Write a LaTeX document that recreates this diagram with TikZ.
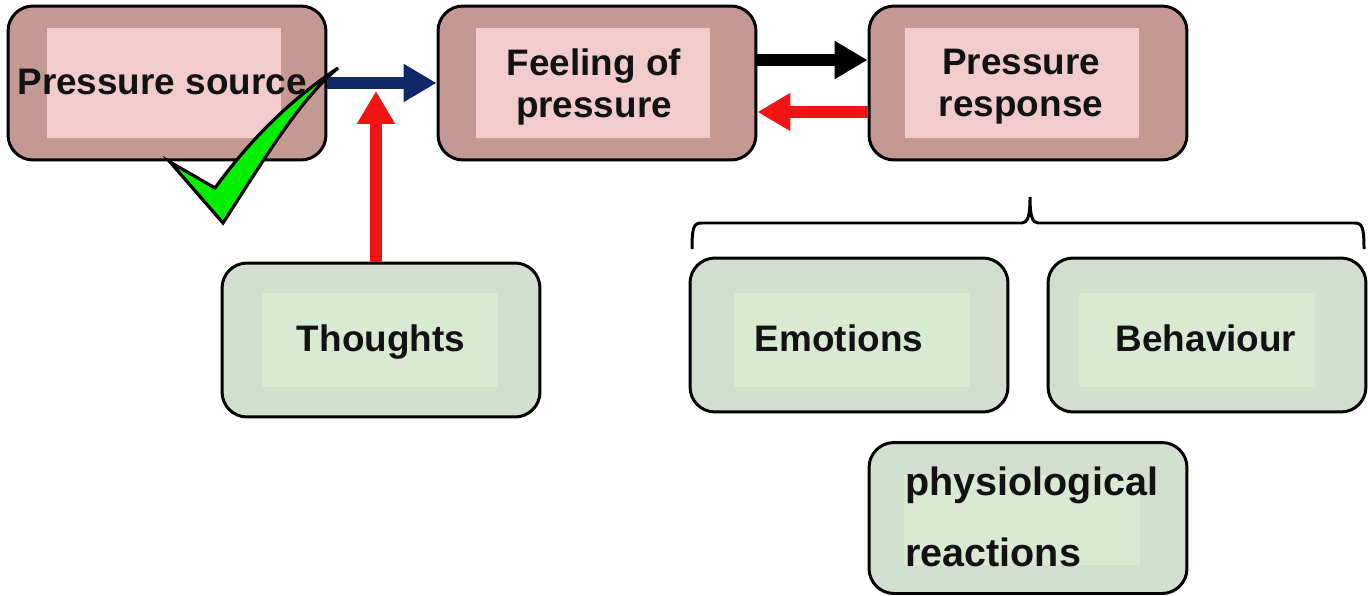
\documentclass[tikz,border=0pt]{standalone}
\usepackage{fontspec}
\setsansfont{Liberation Sans}
\usetikzlibrary{positioning}
\usetikzlibrary{arrows.meta}
\usetikzlibrary{calc}
\definecolor{boxbrown}{RGB}{196,152,147}
\definecolor{boxpink}{RGB}{242,204,204}
\definecolor{boxgreen}{RGB}{210,223,206}
\definecolor{innergreen}{RGB}{217,234,211}
\definecolor{navyarrow}{RGB}{16,40,104}
\definecolor{redarrow}{RGB}{240,20,20}
\definecolor{tickgreen}{RGB}{0,240,0}
\tikzstyle{pbox}=[draw=black,line width=1.7pt,rounded corners=0.5cm,fill=boxbrown,minimum width=6.36cm,minimum height=3.08cm,inner sep=0]
\tikzstyle{gbox}=[pbox,fill=boxgreen]
\tikzstyle{pinner}=[fill=boxpink,minimum width=4.7cm,minimum height=2.2cm,inner sep=0]
\tikzstyle{ginner}=[fill=innergreen,minimum width=4.72cm,minimum height=1.9cm,inner sep=0]
\tikzstyle{txt}=[font=\sffamily\bfseries\fontsize{21}{24}\selectfont,text=black!93,align=center,inner sep=0]
\tikzstyle{taro}=[-{Triangle[length=0.66cm,width=0.72cm]},line width=6.5pt]

\begin{document}
\begin{tikzpicture}[x=0.02cm,y=-0.02cm]
	\useasboundingbox (0,0) rectangle (1368,595);

	% Pressure chain
	\node[pbox] (srcbox) at (167,83) {};
	\node[pinner] (srcin) at (164,83) {};
	\node[txt] (src) at (162,82) {Pressure source};
	\node[pbox] (feelbox) at (597,83) {};
	\node[pinner] (feelin) at (593,83) {};
	\node[txt] (feel) at (594,87) {Feeling of\\pressure};
	\node[pbox] (respbox) at (1028,83) {};
	\node[pinner] (respin) at (1022,83) {};
	\node[txt] (resp) at (1021,87) {Pressure\\response};

	% Thoughts
	\node[gbox] (thoughtbox) at (381,340) {};
	\node[ginner] (thoughtin) at (380,340) {};
	\node[txt] (thought) at (381,342) {Thoughts};

	% Parts of the response
	\node[gbox] (emobox) at (849,335) {};
	\node[ginner] (emoin) at (852,340) {};
	\node[txt] (emo) at (839,338) {Emotions};
	\node[gbox] (behbox) at (1207,335) {};
	\node[ginner] (behin) at (1197,340) {};
	\node[txt] (beh) at (1206,338) {Behaviour};
	\node[gbox,minimum height=3.02cm] (physbox) at (1028,518) {};
	\node[ginner,minimum height=1.8cm] (physin) at (1022,520) {};
	\node[txt,align=left,anchor=west,font=\sffamily\bfseries\fontsize{22.5}{40}\selectfont] (phys) at (905,517) {physiological\\reactions};

	% Arrows
	\coordinate (meet) at (376,91);
	\draw[taro,navyarrow] (srcbox.east) -- (feelbox.west);
	\draw[taro,redarrow] (thoughtbox.north -| meet) -- (meet);
	\draw[taro,black] ([yshift=0.46cm]feelbox.east) -- ([yshift=0.46cm]respbox.west);
	\draw[taro,redarrow] ([yshift=-0.58cm]respbox.west) -- ([yshift=-0.58cm]feelbox.east);

	% Brace
	\draw[line width=1.7pt] (692,249) .. controls (692,226) and (694,223) .. (702,223) -- (1022,223) .. controls (1028,223) and (1030,215) .. (1030,197) .. controls (1030,215) and (1032,223) .. (1038,223) -- (1354,223) .. controls (1362,223) and (1364,226) .. (1364,249);

	% Tick
	\draw[fill=tickgreen,line width=1.8pt,line join=miter] (170,162) -- (223,223) .. controls (270,150) and (300,100) .. (338,68) .. controls (290,100) and (250,140) .. (215,188) -- cycle;
\end{tikzpicture}
\end{document}
